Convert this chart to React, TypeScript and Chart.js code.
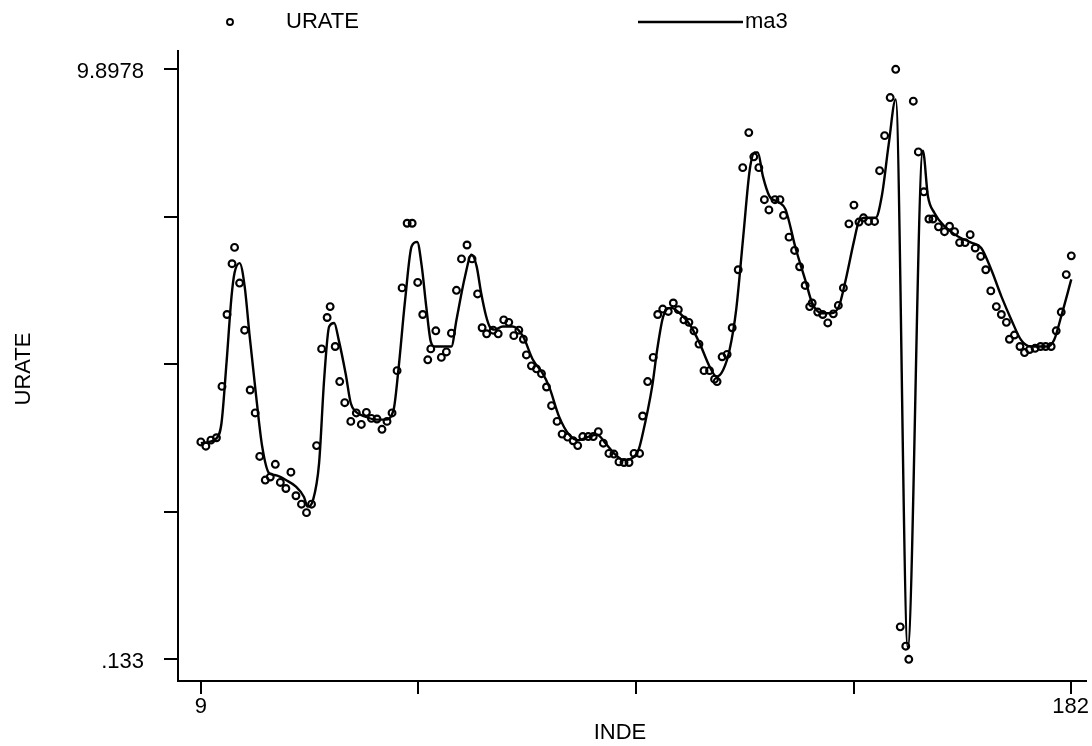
import React, { useEffect, useRef } from "react";
import { Chart, registerables } from "chart.js";

Chart.register(...registerables);

// URATE scatter: INDE (x) and URATE (y)
const inde = [
  9.0, 10.0, 11.0, 12.1, 13.2, 14.2, 15.2, 15.7, 16.7, 17.7, 18.8, 19.8, 20.7, 21.8, 22.8, 23.8,
  24.8, 25.9, 26.9, 27.9, 29.0, 30.0, 31.0, 32.0, 33.0, 34.1, 34.7, 35.7, 36.6, 37.6, 38.8, 39.9,
  40.9, 41.9, 42.9, 44.0, 45.0, 46.0, 47.0, 48.0, 49.0, 50.0, 51.0, 52.1, 53.1, 54.1, 54.7, 55.7,
  56.8, 57.8, 58.8, 59.8, 60.8, 61.9, 62.9, 64.0, 64.9, 65.8, 67.1, 68.1, 69.2, 70.2, 71.2, 72.2,
  73.1, 73.7, 74.7, 75.7, 76.7, 77.7, 78.7, 79.8, 80.8, 81.9, 83.0, 83.9, 84.9, 86.0, 87.0, 88.0,
  89.0, 90.1, 91.1, 92.1, 93.1, 94.1, 95.1, 96.2, 96.8, 97.8, 98.9, 99.8, 100.8, 101.9, 102.9, 103.9,
  105.0, 106.0, 107.0, 108.0, 109.0, 110.1, 111.1, 111.6, 112.6, 113.6, 114.6, 115.8, 116.7, 117.9, 118.9, 119.9,
  121.0, 121.9, 123.1, 124.1, 124.8, 125.9, 127.0, 128.0, 129.1, 130.0, 130.5, 131.6, 132.6, 133.6, 134.7, 135.7,
  136.7, 137.8, 138.8, 139.8, 140.7, 141.7, 142.9, 143.9, 144.9, 146.0, 147.1, 148.0, 149.1, 149.7, 150.6, 151.6,
  152.7, 153.7, 154.5, 155.6, 156.8, 157.8, 158.8, 159.8, 160.9, 161.9, 162.9, 164.0, 165.0, 166.0, 167.1, 168.1,
  169.1, 169.7, 170.7, 171.8, 172.7, 173.7, 174.8, 175.9, 176.9, 178.0, 179.0, 180.0, 181.0, 182.0,
];
const urate = [
  3.73, 3.66, 3.76, 3.80, 4.65, 5.84, 6.68, 6.95, 6.36, 5.58, 4.59, 4.21, 3.49, 3.10, 3.15, 3.36,
  3.06, 2.96, 3.23, 2.84, 2.70, 2.56, 2.70, 3.67, 5.27, 5.79, 5.97, 5.31, 4.73, 4.38, 4.07, 4.21,
  4.02, 4.22, 4.12, 4.11, 3.94, 4.07, 4.21, 4.91, 6.28, 7.35, 7.35, 6.37, 5.84, 5.09, 5.27, 5.57,
  5.13, 5.22, 5.53, 6.24, 6.76, 6.99, 6.76, 6.18, 5.62, 5.52, 5.58, 5.52, 5.75, 5.71, 5.49, 5.58,
  5.43, 5.17, 4.99, 4.94, 4.86, 4.64, 4.33, 4.07, 3.86, 3.81, 3.75, 3.67, 3.82, 3.82, 3.82, 3.90,
  3.71, 3.54, 3.53, 3.40, 3.39, 3.39, 3.54, 3.54, 4.16, 4.73, 5.13, 5.84, 5.93, 5.89, 6.03, 5.92,
  5.75, 5.71, 5.57, 5.35, 4.91, 4.91, 4.77, 4.73, 5.14, 5.18, 5.62, 6.58, 8.27, 8.85, 8.45, 8.27,
  7.74, 7.57, 7.74, 7.74, 7.48, 7.12, 6.90, 6.63, 6.32, 5.97, 6.03, 5.88, 5.84, 5.70, 5.85, 5.99,
  6.28, 7.34, 7.65, 7.37, 7.44, 7.38, 7.38, 8.22, 8.80, 9.43, 9.8978, 0.67, 0.35, 0.133, 9.37, 8.53,
  7.87, 7.42, 7.42, 7.29, 7.21, 7.30, 7.21, 7.03, 7.03, 7.16, 6.94, 6.80, 6.58, 6.23, 5.97, 5.84,
  5.71, 5.43, 5.50, 5.31, 5.21, 5.26, 5.28, 5.31, 5.31, 5.31, 5.57, 5.88, 6.50, 6.81,
];

// ma3 line
const maX = [
  9.0, 12.1, 13.1, 14.1, 15.1, 15.7, 16.7, 17.7, 18.7, 20.0, 21.2, 22.6, 23.9, 25.9, 27.9, 29.5,
  30.2, 31.3, 32.5, 33.5, 34.5, 35.5, 36.4, 37.8, 38.8, 39.8, 41.7, 43.7, 45.7, 47.3, 48.2, 49.6,
  50.9, 52.0, 52.9, 53.8, 54.7, 55.5, 58.8, 59.8, 61.5, 62.8, 63.8, 64.7, 65.7, 66.4, 67.4, 69.0,
  71.0, 73.0, 75.0, 76.9, 78.2, 80.2, 82.2, 84.1, 86.1, 87.8, 89.4, 91.4, 93.1, 94.7, 96.0, 96.7,
  98.7, 99.7, 100.9, 102.5, 104.2, 106.2, 108.1, 110.1, 111.5, 112.8, 114.1, 115.4, 116.8, 118.1, 119.1, 119.7,
  120.7, 122.0, 124.0, 125.2, 127.2, 129.2, 130.5, 132.5, 134.2, 135.8, 137.1, 138.8, 139.8, 141.1, 143.1, 144.4,
  145.7, 147.1, 149.5, 152.5, 153.5, 154.8, 156.8, 159.5, 162.1, 164.1, 166.1, 168.1, 170.1, 172.0, 174.0, 177.3,
  178.6, 180.0, 182.0,
];
const ma3 = [
  3.71, 3.79, 4.04, 5.04, 6.14, 6.53, 6.69, 6.31, 5.48, 4.48, 3.65, 3.21, 3.18, 3.10, 2.99, 2.82,
  2.66, 2.77, 3.38, 4.76, 5.64, 5.70, 5.42, 4.85, 4.37, 4.23, 4.15, 4.10, 4.10, 4.26, 4.87, 6.08,
  6.97, 7.04, 6.64, 5.97, 5.39, 5.31, 5.31, 5.75, 6.47, 6.83, 6.64, 6.20, 5.81, 5.64, 5.59, 5.64,
  5.64, 5.48, 5.09, 4.87, 4.65, 4.15, 3.85, 3.76, 3.82, 3.85, 3.71, 3.52, 3.43, 3.46, 3.60, 3.82,
  4.65, 5.26, 5.81, 5.95, 5.86, 5.67, 5.37, 4.98, 4.81, 4.92, 5.26, 5.92, 7.13, 8.24, 8.52, 8.52,
  8.13, 7.80, 7.69, 7.58, 6.94, 6.39, 6.03, 5.86, 5.86, 5.97, 6.39, 7.05, 7.38, 7.44, 7.44, 7.83,
  8.65, 9.40, 0.33, 8.55, 7.80, 7.52, 7.30, 7.13, 7.03, 6.94, 6.58, 6.14, 5.75, 5.42, 5.31, 5.31,
  5.42, 5.81, 6.42,
];

const xTickValues = [9, 52.25, 95.5, 138.75, 182];
const xTickLabels = ["9", "", "", "", "182"];
const yTickValues = [0.133, 2.5742, 5.0154, 7.4566, 9.8978];
const yTickLabels = [".133", "", "", "", "9.8978"];

const FONT_FAMILY = '"Liberation Sans", Arial, Helvetica, sans-serif';
const FONT = `22px ${FONT_FAMILY}`;

const textPlugin = {
  id: "stataText",
  afterDraw(chart: any) {
    const ctx = chart.ctx as CanvasRenderingContext2D;
    const xs = chart.scales.x;
    const ys = chart.scales.y;
    ctx.save();
    ctx.fillStyle = "#000";
    ctx.strokeStyle = "#000";
    ctx.font = FONT;
    ctx.textBaseline = "middle";

    // y tick labels
    ctx.textAlign = "right";
    yTickValues.forEach((v, i) => {
      const t = yTickLabels[i];
      if (!t) return;
      ctx.fillText(t, xs.left - 34, ys.getPixelForValue(v) + 3);
    });

    // x tick labels
    ctx.textAlign = "center";
    xTickValues.forEach((v, i) => {
      const t = xTickLabels[i];
      if (!t) return;
      const w = ctx.measureText(t).width;
      let px = xs.getPixelForValue(v);
      px = Math.min(px, chart.width - 3 - w / 2);
      ctx.fillText(t, px, ys.bottom + 26);
    });

    // axis titles
    ctx.fillText("INDE", 620, 733);
    ctx.save();
    ctx.translate(23.5, 369);
    ctx.rotate(-Math.PI / 2);
    ctx.fillText("URATE", 0, 0);
    ctx.restore();

    // legend
    ctx.lineWidth = 1.9;
    ctx.beginPath();
    ctx.arc(230, 22, 3, 0, Math.PI * 2);
    ctx.stroke();
    ctx.textAlign = "left";
    ctx.fillText("URATE", 286, 22);
    ctx.lineWidth = 2.4;
    ctx.beginPath();
    ctx.moveTo(638, 22);
    ctx.lineTo(743, 22);
    ctx.stroke();
    ctx.fillText("ma3", 745, 22);

    ctx.restore();
  },
};

export default function App() {
  const ref = useRef<HTMLCanvasElement | null>(null);

  useEffect(() => {
    if (!ref.current) return;
    const chart = new Chart(ref.current, {
      type: "scatter",
      data: {
        datasets: [
          {
            type: "line",
            label: "ma3",
            data: maX.map((x, i) => ({ x, y: ma3[i] })),
            borderColor: "#000",
            borderWidth: 2.4,
            pointRadius: 0,
            fill: false,
            cubicInterpolationMode: "monotone",
            order: 2,
          } as any,
          {
            type: "scatter",
            label: "URATE",
            data: inde.map((x, i) => ({ x, y: urate[i] })),
            pointStyle: "circle",
            pointRadius: 3.4,
            pointBorderWidth: 2.1,
            borderColor: "#000",
            backgroundColor: "rgba(0,0,0,0)",
            pointBackgroundColor: "rgba(0,0,0,0)",
            pointBorderColor: "#000",
            order: 1,
          } as any,
        ],
      },
      options: {
        animation: false,
        responsive: false,
        devicePixelRatio: 1,
        events: [],
        layout: { padding: { top: 51, left: 0, right: 0, bottom: 0 } },
        plugins: {
          legend: { display: false },
          tooltip: { enabled: false },
          title: { display: false },
        },
        scales: {
          x: {
            type: "linear",
            position: "bottom",
            min: 4.4593,
            max: 184.902,
            grid: {
              drawOnChartArea: false,
              drawTicks: true,
              tickLength: 13,
              lineWidth: 2,
              color: "#000",
            },
            border: { display: true, color: "#000", width: 2 },
            ticks: { display: false },
            afterBuildTicks: (s: any) => {
              s.ticks = xTickValues.map((v) => ({ value: v }));
            },
            afterFit: (s: any) => {
              s.height = 65;
            },
          },
          y: {
            type: "linear",
            position: "left",
            min: -0.2261,
            max: 10.2007,
            grid: {
              drawOnChartArea: false,
              drawTicks: true,
              tickLength: 14,
              lineWidth: 2,
              color: "#000",
            },
            border: { display: true, color: "#000", width: 2 },
            ticks: { display: false },
            afterBuildTicks: (s: any) => {
              s.ticks = yTickValues.map((v) => ({ value: v }));
            },
            afterFit: (s: any) => {
              s.width = 178;
            },
          },
        },
      },
      plugins: [textPlugin],
    });
    return () => chart.destroy();
  }, []);

  return (
    <div style={{ position: "fixed", left: 0, top: 0, width: 1092, height: 746, background: "#fff" }}>
      <canvas ref={ref} width={1092} height={746} style={{ display: "block" }} />
    </div>
  );
}
